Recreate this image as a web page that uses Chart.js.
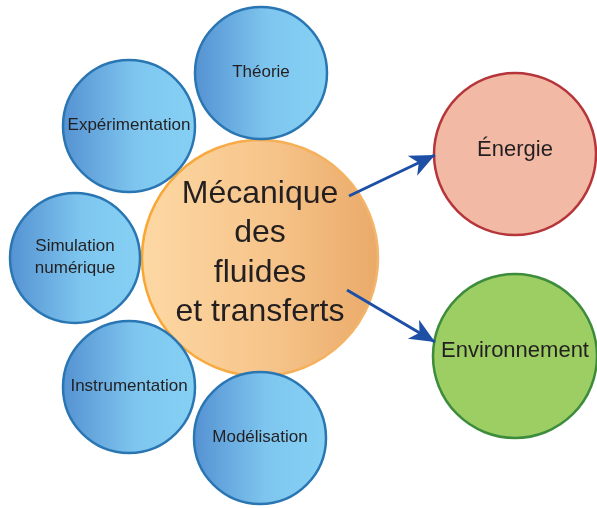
<!DOCTYPE html>
<html>
<head>
<meta charset="utf-8">
<script src="https://cdn.jsdelivr.net/npm/chart.js@4.4.1/dist/chart.umd.min.js"></script>
<style>
  html, body { margin: 0; padding: 0; background: #fff; }
  #carte { display: block; }
</style>
</head>
<body>
<canvas id="carte" width="597" height="508"></canvas>
<script>
// Carte des thèmes - noeuds (bulles) et flèches vers les applications

const nodeLabels = ["Mécanique\ndes\nfluides\net transferts", "Théorie", "Expérimentation",
  "Simulation\nnumérique", "Instrumentation", "Modélisation", "Énergie", "Environnement"];
const nodeKind = ["core", "skill", "skill", "skill", "skill", "skill", "energie", "environnement"];
const nodeX = [260, 261, 129, 75, 129, 260, 515, 515];
const nodeY = [258, 73, 126, 258, 387, 438, 154, 356];
const nodeR = [118, 66, 66, 65, 66, 66, 81, 82];

// flèches : départ -> pointe
const arrowFromX = [349, 347];
const arrowFromY = [196, 290];
const arrowToX = [435, 435];
const arrowToY = [155, 342];

const TEXTE = "#231f20";
const FLECHE = "#1d4fa6";

const styles = {
  core: { font: 32, lineH: 39.5, dy: -5, fill: ["#fdd8a4", "#f6c48a", "#eaaa69"], border: ["#f9a632", "#f3b56c"] },
  skill: { font: 17, lineH: 22, dy: -1, fill: ["#5592d2", "#7ec6ef", "#86d0f4"], border: ["#2a76b3", "#2a76b3"] },
  energie: { font: 22, lineH: 26, dy: -4, fill: ["#f2b9a5", "#f2b9a5", "#f2b9a5"], border: ["#b5353a", "#b5353a"] },
  environnement: { font: 22, lineH: 26, dy: -5, fill: ["#9dce64", "#9dce64", "#9dce64"], border: ["#3d8c3c", "#3d8c3c"] }
};

function gradientPour(ctx, couleurs) {
  const chart = ctx.chart;
  const i = ctx.dataIndex;
  if (!chart.scales || !chart.scales.x || i === undefined) return couleurs[0];
  const cx = chart.scales.x.getPixelForValue(nodeX[i]);
  const r = nodeR[i];
  if (!isFinite(cx)) return couleurs[0];
  const g = chart.ctx.createLinearGradient(cx - r, 0, cx + r, 0);
  if (couleurs.length === 3) {
    g.addColorStop(0, couleurs[0]);
    g.addColorStop(0.55, couleurs[1]);
    g.addColorStop(1, couleurs[2]);
  } else {
    g.addColorStop(0, couleurs[0]);
    g.addColorStop(1, couleurs[1]);
  }
  return g;
}

const noeuds = nodeX.map((x, i) => ({ x: x, y: nodeY[i], r: nodeR[i] }));

const fleches = arrowFromX.map((x, i) => ({
  type: "line",
  data: [{ x: x, y: arrowFromY[i] }, { x: arrowToX[i], y: arrowToY[i] }],
  borderColor: FLECHE,
  borderWidth: 3,
  pointRadius: 0,
  clip: false,
  order: 0
}));

const pluginTextes = {
  id: "textesEtPointes",
  afterDatasetsDraw(chart) {
    const c = chart.ctx;
    // pointes des flèches
    chart.data.datasets.forEach((ds, di) => {
      if (ds.type !== "line") return;
      const pts = chart.getDatasetMeta(di).data;
      const a = pts[0], b = pts[pts.length - 1];
      const dx = b.x - a.x, dy = b.y - a.y;
      const len = Math.hypot(dx, dy);
      const ux = dx / len, uy = dy / len;
      const nx = -uy, ny = ux;
      const L = 25, W = 11, N = 18;
      c.save();
      c.fillStyle = FLECHE;
      c.beginPath();
      c.moveTo(b.x, b.y);
      c.lineTo(b.x - L * ux + W * nx, b.y - L * uy + W * ny);
      c.lineTo(b.x - N * ux, b.y - N * uy);
      c.lineTo(b.x - L * ux - W * nx, b.y - L * uy - W * ny);
      c.closePath();
      c.fill();
      c.restore();
    });
    // textes des noeuds
    const meta = chart.getDatasetMeta(0);
    meta.data.forEach((el, i) => {
      const st = styles[nodeKind[i]];
      const lignes = nodeLabels[i].split("\n");
      c.save();
      c.fillStyle = TEXTE;
      c.font = st.font + 'px "Liberation Sans", Arial, sans-serif';
      c.textAlign = "center";
      c.textBaseline = "middle";
      const y0 = el.y + st.dy - (lignes.length - 1) * st.lineH / 2;
      lignes.forEach((t, k) => c.fillText(t, el.x, y0 + k * st.lineH));
      c.restore();
    });
  }
};

new Chart(document.getElementById("carte"), {
  type: "bubble",
  data: {
    datasets: [{
      data: noeuds,
      backgroundColor: ctx => gradientPour(ctx, styles[nodeKind[ctx.dataIndex]] ? styles[nodeKind[ctx.dataIndex]].fill : ["#ccc"]),
      borderColor: ctx => gradientPour(ctx, styles[nodeKind[ctx.dataIndex]] ? styles[nodeKind[ctx.dataIndex]].border : ["#999"]),
      borderWidth: 2.5,
      clip: false,
      order: 1
    }, ...fleches]
  },
  options: {
    responsive: false,
    animation: false,
    events: [],
    layout: { padding: 0, autoPadding: false },
    plugins: { legend: { display: false }, tooltip: { enabled: false } },
    scales: {
      x: { type: "linear", min: 0, max: 597, display: false },
      y: { type: "linear", min: 0, max: 508, reverse: true, display: false }
    }
  },
  plugins: [pluginTextes]
});
</script>
</body>
</html>
